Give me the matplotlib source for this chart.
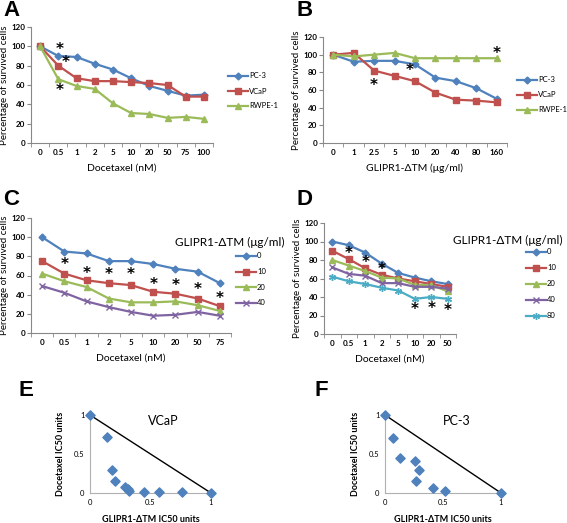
import matplotlib
matplotlib.use("Agg")
import matplotlib.pyplot as plt
from matplotlib.lines import Line2D

plt.rcParams['font.family'] = ['Lato', 'DejaVu Sans']

W, H = 567, 523

# ---- data ----
doc_a = ["0", "0.5", "1", "2", "5", "10", "20", "50", "75", "100"]
pc3_a = [100, 90, 89, 82, 76, 67, 59, 54, 49, 50]
vcap_a = [100, 80, 67, 64, 64, 63, 62, 60, 48, 48]
rwpe_a = [100, 66, 59, 56, 41, 31, 30, 26, 27, 25]

glp_b = ["0", "1", "2.5", "5", "10", "20", "40", "80", "160"]
pc3_b = [100, 92, 93, 93, 89, 74, 70, 62, 50]
vcap_b = [100, 102, 82, 76, 70, 57, 49, 48, 46]
rwpe_b = [100, 98, 100, 102, 96, 96, 96, 96, 96]

doc_c = ["0", "0.5", "1", "2", "5", "10", "20", "50", "75"]
c_0 = [100, 85, 83, 75, 75, 72, 67, 64, 52]
c_10 = [75, 62, 55, 52, 50, 43, 41, 36, 28]
c_20 = [62, 54, 48, 36, 32, 32, 33, 29, 23]
c_40 = [49, 42, 33, 27, 22, 18, 19, 22, 18]

doc_d = ["0", "0.5", "1", "2", "5", "10", "20", "50"]
d_0 = [100, 96, 88, 76, 66, 61, 57, 54]
d_10 = [90, 81, 71, 64, 60, 57, 54, 51]
d_20 = [80, 74, 68, 61, 60, 53, 53, 46]
d_40 = [72, 65, 63, 55, 55, 51, 51, 49]
d_80 = [62, 57, 54, 50, 47, 38, 40, 38]

# significance stars: (category index, y)
stars_a = [(1.05, 97), (1.4, 83), (1.1, 54)]
stars_b = [(2, 65), (3.75, 82), (8, 101)]
stars_c = [(1, 71), (2, 62), (3, 61), (4, 61), (5, 51), (6, 50), (7, 45), (8, 36)]
stars_d = [(1, 87), (2, 77), (3, 70), (5, 26), (6, 28), (7, 25)]

vcap_glp = [0, 0.14, 0.18, 0.21, 0.29, 0.31, 0.32, 0.45, 0.57, 0.76, 1.0]
vcap_doc = [1, 0.72, 0.29, 0.15, 0.08, 0.05, 0.02, 0.01, 0.01, 0.01, 0.0]
pc3_glp = [0, 0.07, 0.13, 0.26, 0.29, 0.27, 0.41, 0.52, 1.0]
pc3_doc = [1, 0.71, 0.45, 0.41, 0.29, 0.15, 0.07, 0.03, 0.0]

BLUE, RED, GREEN, PURPLE, CYAN = "#4f81bd", "#c0504d", "#9bbb59", "#8064a2", "#4bacc6"
GRAY = "#888888"

fig = plt.figure(figsize=(W / 100, H / 100), dpi=100)


def rect(x0, ytop, x1, ybot):
    return [x0 / W, 1 - ybot / H, (x1 - x0) / W, (ybot - ytop) / H]


def fx(x):
    return x / W


def fy(y):
    return 1 - y / H


def line_axes(r, cats, series, stars, xlabel):
    ax = fig.add_axes(r)
    n = len(cats)
    xs = list(range(n))
    for vals, col, mk, ms in series:
        ax.plot(xs, vals, color=col, marker=mk, markersize=ms, lw=1.6,
                markeredgecolor=col, clip_on=False, zorder=3)
    for sx, sy in stars:
        ax.text(sx, sy, "*", ha="center", va="center", fontsize=11,
                fontweight="bold", color="black", zorder=4,
                family=["DejaVu Sans"])
    ax.set_xlim(-0.5, n - 0.5)
    ax.set_ylim(0, 120)
    ax.set_yticks(range(0, 121, 20))
    ax.set_xticks(xs)
    ax.set_xticklabels(cats)
    ax.set_xticks([i - 0.5 for i in range(n + 1)], minor=True)
    ax.tick_params(axis="x", which="major", length=0, pad=4)
    ax.tick_params(axis="x", which="minor", length=3, color=GRAY, direction="out")
    ax.tick_params(axis="y", length=3, color=GRAY, direction="out", pad=1)
    ax.tick_params(labelsize=5.8)
    for lab in ax.get_xticklabels() + ax.get_yticklabels():
        lab.set_fontweight("bold")
    for s in ("top", "right"):
        ax.spines[s].set_visible(False)
    for s in ("left", "bottom"):
        ax.spines[s].set_color(GRAY)
        ax.spines[s].set_linewidth(0.8)
    ax.set_ylabel("Percentage of survived cells", fontsize=7, labelpad=2)
    ax.set_xlabel(xlabel, fontsize=7.5, labelpad=6)
    return ax


def legend_at(series, labels, x, y0, dy):
    for i, ((vals, col, mk, ms), lab) in enumerate(zip(series, labels)):
        yy = y0 + i * dy
        fig.add_artist(Line2D([fx(x), fx(x + 20)], [fy(yy), fy(yy)], color=col,
                              lw=1.6, transform=fig.transFigure))
        fig.add_artist(Line2D([fx(x + 10)], [fy(yy)], color=col, marker=mk,
                              markersize=ms, transform=fig.transFigure))
        fig.text(fx(x + 21), fy(yy), lab, fontsize=5.5, va="center", ha="left")


# ---- A ----
sA = [(pc3_a, BLUE, "D", 3.5), (vcap_a, RED, "s", 5), (rwpe_a, GREEN, "^", 4.5)]
line_axes(rect(31, 27, 213, 143), doc_a, sA, stars_a, "Docetaxel (nM)")
legend_at(sA, ["PC-3", "VCaP", "RWPE-1"], 228, 76, 15)
fig.text(fx(3), fy(11), "A", fontsize=16, fontweight="bold", va="center",
         family=["Liberation Sans"])

# ---- B ----
sB = [(pc3_b, BLUE, "D", 3.5), (vcap_b, RED, "s", 5), (rwpe_b, GREEN, "^", 4.5)]
line_axes(rect(323, 37, 507, 143), glp_b, sB, stars_b, "GLIPR1-ΔTM (μg/ml)")
legend_at(sB, ["PC-3", "VCaP", "RWPE-1"], 517, 80, 15)
fig.text(fx(296), fy(11), "B", fontsize=16, fontweight="bold", va="center",
         family=["Liberation Sans"])

# ---- C ----
sC = [(c_0, BLUE, "D", 3.5), (c_10, RED, "s", 5), (c_20, GREEN, "^", 4.5),
      (c_40, PURPLE, "x", 4.5)]
line_axes(rect(31, 218, 231, 333), doc_c, sC, stars_c, "Docetaxel (nM)")
fig.text(fx(175), fy(242), "GLIPR1-ΔTM (μg/ml)", fontsize=8.5, va="center", ha="left")
legend_at(sC, ["0", "10", "20", "40"], 236, 256, 15.5)
fig.text(fx(3), fy(200), "C", fontsize=16, fontweight="bold", va="center",
         family=["Liberation Sans"])

# ---- D ----
sD = [(d_0, BLUE, "D", 3.5), (d_10, RED, "s", 5), (d_20, GREEN, "^", 4.5),
      (d_40, PURPLE, "x", 4.5), (d_80, CYAN, (6, 2, 0), 5)]
line_axes(rect(324, 223, 456, 334), doc_d, sD, stars_d, "Docetaxel (nM)")
fig.text(fx(453), fy(240), "GLIPR1-ΔTM (μg/ml)", fontsize=8.5, va="center", ha="left")
legend_at(sD, ["0", "10", "20", "40", "80"], 526, 252, 16)
fig.text(fx(296), fy(200), "D", fontsize=16, fontweight="bold", va="center",
         family=["Liberation Sans"])


# ---- E / F isobolograms ----
def iso_axes(r, xs, ys, title, tx):
    ax = fig.add_axes(r)
    ax.plot([0, 1], [1, 0], color="black", lw=1.0, zorder=2)
    ax.scatter(xs, ys, marker="D", s=22, color=BLUE, zorder=3, clip_on=False)
    ax.set_xlim(0, 1)
    ax.set_ylim(0, 1)
    ax.set_xticks([0, 0.5, 1])
    ax.set_xticklabels(["0", "0.5", "1"])
    ax.set_yticks([0, 0.5, 1])
    ax.set_yticklabels(["0", "0.5", "1"])
    ax.tick_params(length=0, labelsize=5.5, pad=4)
    for s in ("top", "right"):
        ax.spines[s].set_visible(False)
    for s in ("left", "bottom"):
        ax.spines[s].set_color("#b0b0b0")
        ax.spines[s].set_linewidth(0.8)
    ax.set_xlabel("GLIPR1-ΔTM IC50 units", fontsize=6.5, fontweight="bold", labelpad=7)
    ax.set_ylabel("Docetaxel IC50 units", fontsize=6.5, fontweight="bold", labelpad=6)
    ax.text(tx, 0.92, title, fontsize=9, ha="left", va="center", transform=ax.transAxes)
    return ax


iso_axes(rect(90, 415, 211, 493), vcap_glp, vcap_doc, "VCaP", 0.48)
fig.text(fx(18), fy(391), "E", fontsize=16, fontweight="bold", va="center",
         family=["Liberation Sans"])
iso_axes(rect(385, 415, 501, 493), pc3_glp, pc3_doc, "PC-3", 0.5)
fig.text(fx(314), fy(391), "F", fontsize=16, fontweight="bold", va="center",
         family=["Liberation Sans"])

fig.savefig("out.png", dpi=100)
